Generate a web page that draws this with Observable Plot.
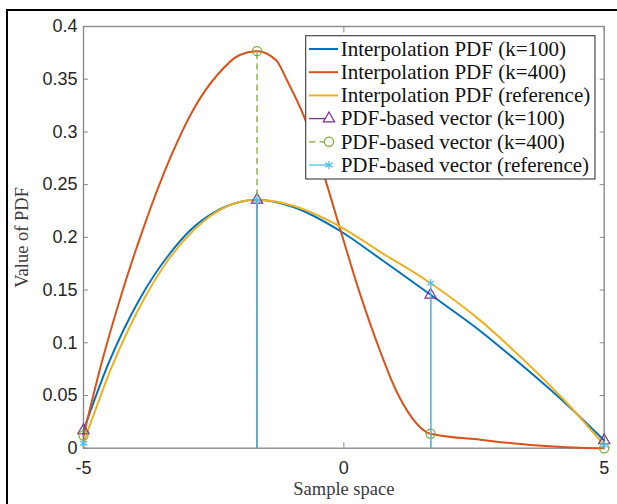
<!DOCTYPE html>
<html><head><meta charset="utf-8">
<script src="https://cdn.jsdelivr.net/npm/d3@7"></script>
<script src="https://cdn.jsdelivr.net/npm/@observablehq/plot@0.6"></script>
<style>
html,body{margin:0;padding:0;background:#fff;overflow:hidden;width:617px;height:504px}
#wrap{position:relative;width:617px;height:504px;overflow:hidden}
#chart{position:absolute;left:0;top:0}
#legend{position:absolute;left:0;top:0}
#border{position:absolute;left:6px;top:9px;width:700px;height:600px;border:2.5px solid #000;box-sizing:border-box;pointer-events:none}
</style></head><body>
<div id="wrap"><div id="chart"></div><svg id="legend" width="617" height="504"></svg><div id="border"></div></div>
<script>
// ---- data ----
const sampleX = [-5, -1.667, 1.667, 5];
const vecK100 = [0.0168, 0.2356, 0.1455, 0.0073];
const vecK400 = [0.012, 0.3766, 0.0137, 0.0];
const vecRef  = [0.0047, 0.2356, 0.1565, 0.003];

const curveK100X = [-5, -4.532, -3.904, -3.36, -2.944, -2.497, -2.0, -1.667, -0.96, -0.063, 0.705, 1.667, 2.625, 3.267, 4.225, 5];
const curveK100Y = [0.0168, 0.079, 0.143, 0.1835, 0.207, 0.2235, 0.2335, 0.2356, 0.2285, 0.2058, 0.1795, 0.1455, 0.111, 0.085, 0.044, 0.0073];

const curveK400X = [-5, -4.673, -4.289, -3.841, -3.328, -2.881, -2.431, -2.0, -1.667, -1.3, -1.087, -0.768, -0.351, -0.096, 0.3, 0.705, 0.994, 1.3, 1.474, 1.667, 2.625, 3.585, 4.545, 5];
const curveK400Y = [0.012, 0.077, 0.143, 0.210, 0.276, 0.322, 0.354, 0.373, 0.3766, 0.368, 0.3485, 0.315, 0.254, 0.212, 0.148, 0.091, 0.0557, 0.0295, 0.0195, 0.0137, 0.008, 0.003, 0.0005, 0.0];

const curveRefX = [-5, -4.448, -3.828, -3.36, -2.88, -2.45, -2.0, -1.667, -0.96, -0.063, 0.705, 1.667, 2.625, 3.267, 4.225, 5];
const curveRefY = [0.0047, 0.078, 0.1425, 0.1795, 0.207, 0.224, 0.2335, 0.2356, 0.2297, 0.210, 0.186, 0.1565, 0.121, 0.0925, 0.046, 0.003];

const xTicks = [-5, 0, 5];
const yTicks = [0, 0.05, 0.1, 0.15, 0.2, 0.25, 0.3, 0.35, 0.4];
const xTickLabels = ["-5", "0", "5"];
const yTickLabels = ["0", "0.05", "0.1", "0.15", "0.2", "0.25", "0.3", "0.35", "0.4"];
const xLabel = "Sample space";
const yLabel = "Value of PDF";
const legendLabels = [
  "Interpolation PDF (k=100)",
  "Interpolation PDF (k=400)",
  "Interpolation PDF (reference)",
  "PDF-based vector (k=100)",
  "PDF-based vector (k=400)",
  "PDF-based vector (reference)"
];

// ---- styles ----
const C = {blue:"#0072BD", orange:"#D95319", yellow:"#EDB120", purple:"#7E2F8E", green:"#77AC30", cyan:"#4DBEEE"};
const serif = "'Liberation Serif', 'Times New Roman', serif";
const sans = "'Liberation Sans', Arial, Helvetica, sans-serif";

const toPts = (xs, ys) => xs.map((x, i) => ({x, y: ys[i]}));
const k100 = toPts(curveK100X, curveK100Y);
const k400 = toPts(curveK400X, curveK400Y);
const ref = toPts(curveRefX, curveRefY);
const sK100 = toPts(sampleX, vecK100);
const sK400 = toPts(sampleX, vecK400);
const sRef = toPts(sampleX, vecRef);

const axisGray = "#8a8a8a";
const fmtX = d => xTickLabels[xTicks.indexOf(d)];
const fmtY = d => yTickLabels[yTicks.indexOf(d)];

const chart = Plot.plot({
  width: 617, height: 504,
  marginLeft: 83, marginRight: 13.3, marginTop: 26, marginBottom: 56.3,
  x: {domain: [-5, 5]},
  y: {domain: [0, 0.4]},
  style: {fontFamily: sans, fontSize: "18px", color: "#262626", background: "transparent"},
  marks: [
    Plot.axisY(yTicks, {anchor: "left", tickSize: -5, tickPadding: 11, tickFormat: fmtY, stroke: axisGray, fill: "#262626", label: null, fontSize: 18}),
    Plot.axisY(yTicks, {anchor: "right", tickSize: -5, fill: "none", stroke: axisGray, label: null}),
    Plot.axisX(xTicks, {anchor: "bottom", tickSize: -5.5, tickPadding: 19, tickFormat: fmtX, stroke: axisGray, fill: "#262626", label: null, fontSize: 18}),
    Plot.axisX(xTicks, {anchor: "top", tickSize: -5.5, fill: "none", stroke: axisGray, label: null}),
    Plot.frame({stroke: axisGray, strokeWidth: 1.4}),
    Plot.text([xLabel], {frameAnchor: "bottom", dy: 41, text: d => d, textAnchor: "middle", lineAnchor: "middle", fontFamily: serif, fontSize: 18.5, fill: "#3a3a3a"}),
    Plot.text([yLabel], {frameAnchor: "left", dx: -61, rotate: -90, text: d => d, textAnchor: "middle", lineAnchor: "middle", fontFamily: serif, fontSize: 18.5, fill: "#3a3a3a"}),
    Plot.line(k100, {x: "x", y: "y", stroke: C.blue, strokeWidth: 2, curve: "monotone-x"}),
    Plot.line(k400, {x: "x", y: "y", stroke: C.orange, strokeWidth: 2, curve: "monotone-x"}),
    Plot.line(ref, {x: "x", y: "y", stroke: C.yellow, strokeWidth: 2, curve: "monotone-x"}),
    Plot.ruleX(sK100, {x: "x", y1: 0, y2: "y", stroke: C.purple, strokeWidth: 1.3}),
    Plot.dot(sK100, {x: "x", y: "y", symbol: "triangle", r: 4.2, stroke: C.purple, strokeWidth: 1.2, fill: "none"}),
    Plot.ruleX(sK400, {x: "x", y1: 0, y2: "y", stroke: C.green, strokeWidth: 1.3, strokeDasharray: "6.5,4"}),
    Plot.dot(sK400, {x: "x", y: "y", symbol: "circle", r: 4.6, stroke: C.green, strokeWidth: 1.2, fill: "none"}),
    Plot.ruleX(sRef, {x: "x", y1: 0, y2: "y", stroke: C.cyan, strokeWidth: 1.3}),
    Plot.dot(sRef, {x: "x", y: "y", symbol: "asterisk", r: 4, stroke: C.cyan, strokeWidth: 1.2, fill: "none"})
  ]
});
document.getElementById("chart").appendChild(chart);

// ---- legend ----
const lg = d3.select("#legend");
const box = {x: 305.7, y: 35.7, w: 289.3, h: 143.3};
lg.append("rect").attr("x", box.x).attr("y", box.y).attr("width", box.w).attr("height", box.h)
  .attr("fill", "#fff").attr("stroke", "#3a3a3a").attr("stroke-width", 1.1);
const entries = [
  {kind: "line", color: C.blue},
  {kind: "line", color: C.orange},
  {kind: "line", color: C.yellow},
  {kind: "stem", color: C.purple, sym: d3.symbolTriangle, dash: null},
  {kind: "stem", color: C.green, sym: d3.symbolCircle, dash: "6.5,4"},
  {kind: "stem", color: C.cyan, sym: d3.symbolAsterisk, dash: null}
];
const rowY0 = 49, rowStep = 23.2;
entries.forEach((e, i) => {
  const cy = rowY0 + i * rowStep;
  if (e.kind === "line") {
    lg.append("line").attr("x1", 309).attr("x2", 338).attr("y1", cy).attr("y2", cy)
      .attr("stroke", e.color).attr("stroke-width", 2);
  } else {
    lg.append("line").attr("x1", 309).attr("x2", 329).attr("y1", cy).attr("y2", cy)
      .attr("stroke", e.color).attr("stroke-width", 1.3).attr("stroke-dasharray", e.dash);
    const r = e.sym === d3.symbolTriangle ? 4.2 : e.sym === d3.symbolCircle ? 4.6 : 4;
    lg.append("path").attr("d", d3.symbol(e.sym, Math.PI * r * r)())
      .attr("transform", `translate(329,${cy})`)
      .attr("fill", e.sym === d3.symbolCircle || e.sym === d3.symbolTriangle ? "#fff" : "none")
      .attr("stroke", e.color).attr("stroke-width", 1.2);
  }
  lg.append("text").attr("x", 340.7).attr("y", cy + 6.8).text(legendLabels[i])
    .attr("font-family", serif).attr("font-size", 21).attr("fill", "#111");
});
</script>
</body></html>
